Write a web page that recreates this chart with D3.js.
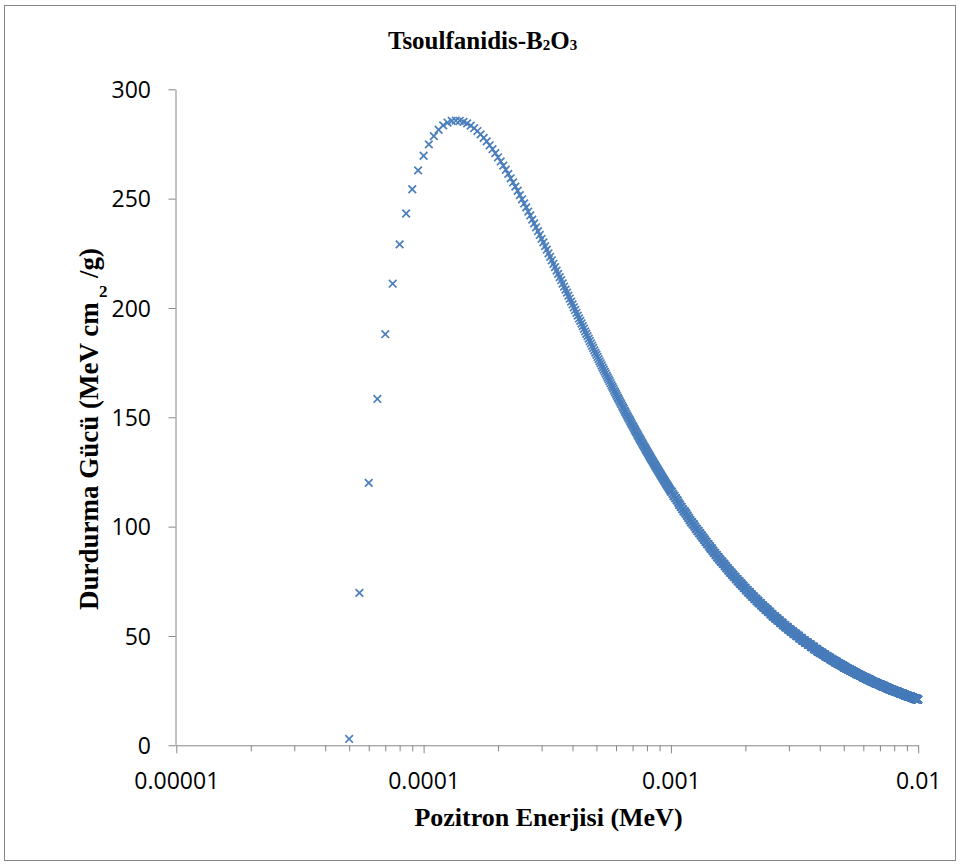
<!DOCTYPE html>
<html>
<head>
<meta charset="utf-8">
<script src="https://cdn.jsdelivr.net/npm/d3@7"></script>
<style>
  body { margin: 0; background: #fff; }
  svg { display: block; }
</style>
</head>
<body>
<div id="chart"></div>
<script>
// energy grid of the sheet: 0.00005 MeV .. 0.01 MeV, step 0.000005 MeV
var energyStart = 0.00005;
var energyStep = 0.000005;

// stopping power (MeV cm2/g), 0.00005 .. 0.000995 MeV, 10 points per line
var stoppingLow = [
  2.9, 69.7, 120.0, 158.4, 188.0, 211.1, 229.1, 243.2, 254.3, 262.9,
  269.6, 274.8, 278.6, 281.5, 283.5, 284.8, 285.5, 285.7, 285.6, 285.1,
  284.4, 283.4, 282.2, 280.9, 279.4, 277.8, 276.2, 274.4, 272.6, 270.8,
  268.9, 267.0, 265.1, 263.2, 261.3, 259.3, 257.4, 255.5, 253.6, 251.6,
  249.7, 247.8, 246.0, 244.1, 242.3, 240.4, 238.7, 236.9, 235.1, 233.4,
  231.6, 230.0, 228.3, 226.7, 225.0, 223.4, 221.8, 220.2, 218.7, 217.1,
  215.6, 214.1, 212.7, 211.2, 209.8, 208.4, 207.0, 205.6, 204.3, 202.9,
  201.6, 200.3, 199.1, 197.8, 196.5, 195.2, 194.1, 192.9, 191.7, 190.5,
  189.3, 188.2, 187.1, 186.0, 184.9, 183.8, 182.7, 181.7, 180.6, 179.6,
  178.6, 177.6, 176.6, 175.6, 174.7, 173.7, 172.7, 171.8, 170.9, 170.0,
  169.1, 168.2, 167.3, 166.5, 165.6, 164.7, 163.9, 163.1, 162.2, 161.4,
  160.6, 159.8, 159.0, 158.3, 157.5, 156.7, 156.0, 155.2, 154.5, 153.8,
  153.0, 152.3, 151.6, 150.9, 150.2, 149.5, 148.9, 148.2, 147.5, 146.9,
  146.2, 145.6, 144.9, 144.3, 143.7, 143.1, 142.4, 141.8, 141.2, 140.6,
  140.0, 139.5, 138.9, 138.3, 137.7, 137.2, 136.6, 136.1, 135.5, 135.0,
  134.4, 133.9, 133.4, 132.8, 132.3, 131.8, 131.3, 130.8, 130.3, 129.8,
  129.3, 128.8, 128.3, 127.8, 127.4, 126.9, 126.4, 126.0, 125.5, 125.0,
  124.6, 124.1, 123.7, 123.2, 122.8, 122.4, 121.9, 121.5, 121.1, 120.7,
  120.2, 119.8, 119.4, 119.0, 118.6, 118.2, 117.8, 117.4, 117.0, 116.6
];

// 0.001 .. 0.01 MeV, one line = 0.0001 MeV (20 points), last value = 0.01 MeV
var stoppingHigh = [
  116,116,116,115,115,114,114,114,113,113,113,112,112,112,111,111,110,110,110,109,
  109,109,108,108,108,107,107,107,107,106,106,106,105,105,105,104,104,104,103,103,
  103,102,102,102,102,101,101,101,101,100,100,100,99,99,99,99,98,98,98,98,
  97,97,97,97,96,96,96,96,95,95,95,95,94,94,94,94,93,93,93,93,
  92,92,92,92,92,91,91,91,91,90,90,90,90,90,89,89,89,89,88,88,
  88,88,88,87,87,87,87,87,86,86,86,86,86,85,85,85,85,85,84,84,
  84,84,84,84,83,83,83,83,83,83,82,82,82,82,82,81,81,81,81,81,
  81,80,80,80,80,80,80,79,79,79,79,79,79,78,78,78,78,78,78,77,
  77,77,77,77,77,77,76,76,76,76,76,76,76,75,75,75,75,75,75,75,
  74,74,74,74,74,74,74,73,73,73,73,73,73,73,72,72,72,72,72,72,
  72,72,71,71,71,71,71,71,71,71,70,70,70,70,70,70,70,70,69,69,
  69,69,69,69,69,69,68,68,68,68,68,68,68,68,68,67,67,67,67,67,
  67,67,67,67,66,66,66,66,66,66,66,66,66,65,65,65,65,65,65,65,
  65,65,65,64,64,64,64,64,64,64,64,64,64,63,63,63,63,63,63,63,
  63,63,63,62,62,62,62,62,62,62,62,62,62,62,61,61,61,61,61,61,
  61,61,61,61,61,60,60,60,60,60,60,60,60,60,60,60,59,59,59,59,
  59,59,59,59,59,59,59,59,58,58,58,58,58,58,58,58,58,58,58,58,
  57,57,57,57,57,57,57,57,57,57,57,57,57,56,56,56,56,56,56,56,
  56,56,56,56,56,56,56,55,55,55,55,55,55,55,55,55,55,55,55,55,
  54,54,54,54,54,54,54,54,54,54,54,54,54,54,54,53,53,53,53,53,
  53,53,53,53,53,53,53,53,53,53,52,52,52,52,52,52,52,52,52,52,
  52,52,52,52,52,52,51,51,51,51,51,51,51,51,51,51,51,51,51,51,
  51,51,51,50,50,50,50,50,50,50,50,50,50,50,50,50,50,50,50,50,
  49,49,49,49,49,49,49,49,49,49,49,49,49,49,49,49,49,49,48,48,
  48,48,48,48,48,48,48,48,48,48,48,48,48,48,48,48,48,47,47,47,
  47,47,47,47,47,47,47,47,47,47,47,47,47,47,47,47,47,46,46,46,
  46,46,46,46,46,46,46,46,46,46,46,46,46,46,46,46,46,45,45,45,
  45,45,45,45,45,45,45,45,45,45,45,45,45,45,45,45,45,45,45,44,
  44,44,44,44,44,44,44,44,44,44,44,44,44,44,44,44,44,44,44,44,
  44,44,43,43,43,43,43,43,43,43,43,43,43,43,43,43,43,43,43,43,
  42.3,42.3,42.3,42.3,42.3,42.3,42.3,42.3,42.3,42.3,42.3,42.3,42.3,42.3,42.3,42.3,42.3,42.3,42.3,42.3,
  41.6,41.6,41.6,41.6,41.6,41.6,41.6,41.6,41.6,41.6,41.6,41.6,41.6,41.6,41.6,41.6,41.6,41.6,41.6,41.6,
  40.8,40.8,40.8,40.8,40.8,40.8,40.8,40.8,40.8,40.8,40.8,40.8,40.8,40.8,40.8,40.8,40.8,40.8,40.8,40.8,
  40.1,40.1,40.1,40.1,40.1,40.1,40.1,40.1,40.1,40.1,40.1,40.1,40.1,40.1,40.1,40.1,40.1,40.1,40.1,40.1,
  39.4,39.4,39.4,39.4,39.4,39.4,39.4,39.4,39.4,39.4,39.4,39.4,39.4,39.4,39.4,39.4,39.4,39.4,39.4,39.4,
  38.7,38.7,38.7,38.7,38.7,38.7,38.7,38.7,38.7,38.7,38.7,38.7,38.7,38.7,38.7,38.7,38.7,38.7,38.7,38.7,
  38.1,38.1,38.1,38.1,38.1,38.1,38.1,38.1,38.1,38.1,38.1,38.1,38.1,38.1,38.1,38.1,38.1,38.1,38.1,38.1,
  37.5,37.5,37.5,37.5,37.5,37.5,37.5,37.5,37.5,37.5,37.5,37.5,37.5,37.5,37.5,37.5,37.5,37.5,37.5,37.5,
  36.9,36.9,36.9,36.9,36.9,36.9,36.9,36.9,36.9,36.9,36.9,36.9,36.9,36.9,36.9,36.9,36.9,36.9,36.9,36.9,
  36.3,36.3,36.3,36.3,36.3,36.3,36.3,36.3,36.3,36.3,36.3,36.3,36.3,36.3,36.3,36.3,36.3,36.3,36.3,36.3,
  35.7,35.7,35.7,35.7,35.7,35.7,35.7,35.7,35.7,35.7,35.7,35.7,35.7,35.7,35.7,35.7,35.7,35.7,35.7,35.7,
  35.2,35.2,35.2,35.2,35.2,35.2,35.2,35.2,35.2,35.2,35.2,35.2,35.2,35.2,35.2,35.2,35.2,35.2,35.2,35.2,
  34.7,34.7,34.7,34.7,34.7,34.7,34.7,34.7,34.7,34.7,34.7,34.7,34.7,34.7,34.7,34.7,34.7,34.7,34.7,34.7,
  34.2,34.2,34.2,34.2,34.2,34.2,34.2,34.2,34.2,34.2,34.2,34.2,34.2,34.2,34.2,34.2,34.2,34.2,34.2,34.2,
  33.7,33.7,33.7,33.7,33.7,33.7,33.7,33.7,33.7,33.7,33.7,33.7,33.7,33.7,33.7,33.7,33.7,33.7,33.7,33.7,
  33.2,33.2,33.2,33.2,33.2,33.2,33.2,33.2,33.2,33.2,33.2,33.2,33.2,33.2,33.2,33.2,33.2,33.2,33.2,33.2,
  32.7,32.7,32.7,32.7,32.7,32.7,32.7,32.7,32.7,32.7,32.7,32.7,32.7,32.7,32.7,32.7,32.7,32.7,32.7,32.7,
  32.3,32.3,32.3,32.3,32.3,32.3,32.3,32.3,32.3,32.3,32.3,32.3,32.3,32.3,32.3,32.3,32.3,32.3,32.3,32.3,
  31.9,31.9,31.9,31.9,31.9,31.9,31.9,31.9,31.9,31.9,31.9,31.9,31.9,31.9,31.9,31.9,31.9,31.9,31.9,31.9,
  31.5,31.5,31.5,31.5,31.5,31.5,31.5,31.5,31.5,31.5,31.5,31.5,31.5,31.5,31.5,31.5,31.5,31.5,31.5,31.5,
  31.0,31.0,31.0,31.0,31.0,31.0,31.0,31.0,31.0,31.0,31.0,31.0,31.0,31.0,31.0,31.0,31.0,31.0,31.0,31.0,
  30.7,30.7,30.7,30.7,30.7,30.7,30.7,30.7,30.7,30.7,30.7,30.7,30.7,30.7,30.7,30.7,30.7,30.7,30.7,30.7,
  30.3,30.3,30.3,30.3,30.3,30.3,30.3,30.3,30.3,30.3,30.3,30.3,30.3,30.3,30.3,30.3,30.3,30.3,30.3,30.3,
  29.9,29.9,29.9,29.9,29.9,29.9,29.9,29.9,29.9,29.9,29.9,29.9,29.9,29.9,29.9,29.9,29.9,29.9,29.9,29.9,
  29.5,29.5,29.5,29.5,29.5,29.5,29.5,29.5,29.5,29.5,29.5,29.5,29.5,29.5,29.5,29.5,29.5,29.5,29.5,29.5,
  29.2,29.2,29.2,29.2,29.2,29.2,29.2,29.2,29.2,29.2,29.2,29.2,29.2,29.2,29.2,29.2,29.2,29.2,29.2,29.2,
  28.8,28.8,28.8,28.8,28.8,28.8,28.8,28.8,28.8,28.8,28.8,28.8,28.8,28.8,28.8,28.8,28.8,28.8,28.8,28.8,
  28.5,28.5,28.5,28.5,28.5,28.5,28.5,28.5,28.5,28.5,28.5,28.5,28.5,28.5,28.5,28.5,28.5,28.5,28.5,28.5,
  28.2,28.2,28.2,28.2,28.2,28.2,28.2,28.2,28.2,28.2,28.2,28.2,28.2,28.2,28.2,28.2,28.2,28.2,28.2,28.2,
  27.9,27.9,27.9,27.9,27.9,27.9,27.9,27.9,27.9,27.9,27.9,27.9,27.9,27.9,27.9,27.9,27.9,27.9,27.9,27.9,
  27.6,27.6,27.6,27.6,27.6,27.6,27.6,27.6,27.6,27.6,27.6,27.6,27.6,27.6,27.6,27.6,27.6,27.6,27.6,27.6,
  27.2,27.2,27.2,27.2,27.2,27.2,27.2,27.2,27.2,27.2,27.2,27.2,27.2,27.2,27.2,27.2,27.2,27.2,27.2,27.2,
  27.0,27.0,27.0,27.0,27.0,27.0,27.0,27.0,27.0,27.0,27.0,27.0,27.0,27.0,27.0,27.0,27.0,27.0,27.0,27.0,
  26.7,26.7,26.7,26.7,26.7,26.7,26.7,26.7,26.7,26.7,26.7,26.7,26.7,26.7,26.7,26.7,26.7,26.7,26.7,26.7,
  26.4,26.4,26.4,26.4,26.4,26.4,26.4,26.4,26.4,26.4,26.4,26.4,26.4,26.4,26.4,26.4,26.4,26.4,26.4,26.4,
  26.1,26.1,26.1,26.1,26.1,26.1,26.1,26.1,26.1,26.1,26.1,26.1,26.1,26.1,26.1,26.1,26.1,26.1,26.1,26.1,
  25.8,25.8,25.8,25.8,25.8,25.8,25.8,25.8,25.8,25.8,25.8,25.8,25.8,25.8,25.8,25.8,25.8,25.8,25.8,25.8,
  25.6,25.6,25.6,25.6,25.6,25.6,25.6,25.6,25.6,25.6,25.6,25.6,25.6,25.6,25.6,25.6,25.6,25.6,25.6,25.6,
  25.3,25.3,25.3,25.3,25.3,25.3,25.3,25.3,25.3,25.3,25.3,25.3,25.3,25.3,25.3,25.3,25.3,25.3,25.3,25.3,
  25.1,25.1,25.1,25.1,25.1,25.1,25.1,25.1,25.1,25.1,25.1,25.1,25.1,25.1,25.1,25.1,25.1,25.1,25.1,25.1,
  24.8,24.8,24.8,24.8,24.8,24.8,24.8,24.8,24.8,24.8,24.8,24.8,24.8,24.8,24.8,24.8,24.8,24.8,24.8,24.8,
  24.6,24.6,24.6,24.6,24.6,24.6,24.6,24.6,24.6,24.6,24.6,24.6,24.6,24.6,24.6,24.6,24.6,24.6,24.6,24.6,
  24.4,24.4,24.4,24.4,24.4,24.4,24.4,24.4,24.4,24.4,24.4,24.4,24.4,24.4,24.4,24.4,24.4,24.4,24.4,24.4,
  24.1,24.1,24.1,24.1,24.1,24.1,24.1,24.1,24.1,24.1,24.1,24.1,24.1,24.1,24.1,24.1,24.1,24.1,24.1,24.1,
  23.9,23.9,23.9,23.9,23.9,23.9,23.9,23.9,23.9,23.9,23.9,23.9,23.9,23.9,23.9,23.9,23.9,23.9,23.9,23.9,
  23.7,23.7,23.7,23.7,23.7,23.7,23.7,23.7,23.7,23.7,23.7,23.7,23.7,23.7,23.7,23.7,23.7,23.7,23.7,23.7,
  23.5,23.5,23.5,23.5,23.5,23.5,23.5,23.5,23.5,23.5,23.5,23.5,23.5,23.5,23.5,23.5,23.5,23.5,23.5,23.5,
  23.2,23.2,23.2,23.2,23.2,23.2,23.2,23.2,23.2,23.2,23.2,23.2,23.2,23.2,23.2,23.2,23.2,23.2,23.2,23.2,
  23.0,23.0,23.0,23.0,23.0,23.0,23.0,23.0,23.0,23.0,23.0,23.0,23.0,23.0,23.0,23.0,23.0,23.0,23.0,23.0,
  22.8,22.8,22.8,22.8,22.8,22.8,22.8,22.8,22.8,22.8,22.8,22.8,22.8,22.8,22.8,22.8,22.8,22.8,22.8,22.8,
  22.6,22.6,22.6,22.6,22.6,22.6,22.6,22.6,22.6,22.6,22.6,22.6,22.6,22.6,22.6,22.6,22.6,22.6,22.6,22.6,
  22.4,22.4,22.4,22.4,22.4,22.4,22.4,22.4,22.4,22.4,22.4,22.4,22.4,22.4,22.4,22.4,22.4,22.4,22.4,22.4,
  22.3,22.3,22.3,22.3,22.3,22.3,22.3,22.3,22.3,22.3,22.3,22.3,22.3,22.3,22.3,22.3,22.3,22.3,22.3,22.3,
  22.1,22.1,22.1,22.1,22.1,22.1,22.1,22.1,22.1,22.1,22.1,22.1,22.1,22.1,22.1,22.1,22.1,22.1,22.1,22.1,
  21.9,21.9,21.9,21.9,21.9,21.9,21.9,21.9,21.9,21.9,21.9,21.9,21.9,21.9,21.9,21.9,21.9,21.9,21.9,21.9,
  21.7,21.7,21.7,21.7,21.7,21.7,21.7,21.7,21.7,21.7,21.7,21.7,21.7,21.7,21.7,21.7,21.7,21.7,21.7,21.7,
  21.5,21.5,21.5,21.5,21.5,21.5,21.5,21.5,21.5,21.5,21.5,21.5,21.5,21.5,21.5,21.5,21.5,21.5,21.5,21.5,
  21.3,21.3,21.3,21.3,21.3,21.3,21.3,21.3,21.3,21.3,21.3,21.3,21.3,21.3,21.3,21.3,21.3,21.3,21.3,21.3,
  21.2,21.2,21.2,21.2,21.2,21.2,21.2,21.2,21.2,21.2,21.2,21.2,21.2,21.2,21.2,21.2,21.2,21.2,21.2,21.2,
  21.0,21.0,21.0,21.0,21.0,21.0,21.0,21.0,21.0,21.0,21.0,21.0,21.0,21.0,21.0,21.0,21.0,21.0,21.0,21.0,
  20.9
];

var xMajorTicks = [0.00001, 0.0001, 0.001, 0.01];
var xTickLabels = ["0.00001", "0.0001", "0.001", "0.01"];
var xMinorTicks = [2, 3, 4, 5, 6, 7, 8, 9].flatMap(function (m) {
  return [0.00001, 0.0001, 0.001].map(function (d) { return m * d; });
});
var yTicks = [0, 50, 100, 150, 200, 250, 300];

var stopping = stoppingLow.concat(stoppingHigh);
var points = stopping.map(function (v, i) {
  return { energy: energyStart + i * energyStep, value: v };
});
console.log('points', points.length);

var width = 960, height = 865;
var axisColor = "#868686";
var markerColor = "#4a7ebb";

var svg = d3.select("#chart").append("svg")
  .attr("width", width)
  .attr("height", height);

// chart frame
svg.append("rect")
  .attr("x", 4.5).attr("y", 5.5)
  .attr("width", 951).attr("height", 855)
  .attr("fill", "#fff")
  .attr("stroke", axisColor)
  .attr("stroke-width", 1);

var x = d3.scaleLog().domain([0.00001, 0.01]).range([176.3, 918.2]);
var y = d3.scaleLinear().domain([0, 300]).range([745.3, 89.3]);

// x axis: minor ticks first, then major ticks with labels
var xMinor = svg.append("g")
  .attr("transform", "translate(0,745.3)")
  .call(d3.axisBottom(x).tickValues(xMinorTicks).tickSize(6).tickSizeOuter(0).tickFormat(""));
xMinor.select(".domain").remove();
xMinor.selectAll("line").attr("stroke", axisColor);

var xMajor = svg.append("g")
  .attr("transform", "translate(0,745.3)")
  .call(d3.axisBottom(x).tickValues(xMajorTicks).tickSize(8).tickSizeOuter(0)
    .tickFormat(function (d, i) { return xTickLabels[i]; }));
xMajor.select(".domain").attr("stroke", axisColor);
xMajor.selectAll("line").attr("stroke", axisColor);
xMajor.selectAll("text")
  .attr("y", 43.5).attr("dy", 0)
  .attr("fill", "#000")
  .style("font-family", "'Open Sans', sans-serif")
  .style("font-size", "23px");

var yAxis = svg.append("g")
  .attr("transform", "translate(175.5,0)")
  .call(d3.axisLeft(y).tickValues(yTicks).tickSize(7).tickSizeOuter(0));
yAxis.select(".domain").attr("stroke", axisColor);
yAxis.selectAll("line").attr("stroke", axisColor);
yAxis.selectAll("text")
  .attr("x", -24.5).attr("dy", "0.35em")
  .attr("fill", "#000")
  .style("font-family", "'Open Sans', sans-serif")
  .style("font-size", "23px");

// markers
var cross = "M-3.8,-3.8L3.8,3.8M-3.8,3.8L3.8,-3.8";
svg.append("g")
  .attr("fill", "none")
  .attr("stroke", markerColor)
  .attr("stroke-width", 1.7)
  .selectAll("path")
  .data(points)
  .join("path")
  .attr("d", cross)
  .attr("transform", function (d) { return "translate(" + x(d.energy) + "," + y(d.value) + ")"; });

// titles
var serif = "'Liberation Serif', 'Times New Roman', serif";
var title = svg.append("text")
  .attr("x", 388).attr("y", 48.5)
  .style("font-family", serif).style("font-weight", "bold").style("font-size", "25px");
title.append("tspan").text("Tsoulfanidis-B");
title.append("tspan").attr("dy", 1).style("font-size", "15px").text("2");
title.append("tspan").attr("dy", -1).text("O");
title.append("tspan").attr("dy", 1).style("font-size", "15px").text("3");

svg.append("text")
  .attr("x", 548.5).attr("y", 826)
  .attr("text-anchor", "middle")
  .style("font-family", serif).style("font-weight", "bold").style("font-size", "26px")
  .text("Pozitron Enerjisi (MeV)");

// y title: the superscript 2 sits in a gap between "cm" and "/g)"
svg.append("text")
  .attr("transform", "translate(97.5,610) rotate(-90)")
  .attr("text-anchor", "start")
  .style("font-family", serif).style("font-weight", "bold").style("font-size", "27px")
  .text("Durdurma Gücü (MeV cm");

svg.append("text")
  .attr("transform", "translate(97.5,248) rotate(-90)")
  .attr("text-anchor", "end")
  .style("font-family", serif).style("font-weight", "bold").style("font-size", "27px")
  .text("/g)");

svg.append("text")
  .attr("x", 99).attr("y", 297)
  .style("font-family", serif).style("font-weight", "bold").style("font-size", "17px")
  .text("2");
</script>
</body>
</html>
